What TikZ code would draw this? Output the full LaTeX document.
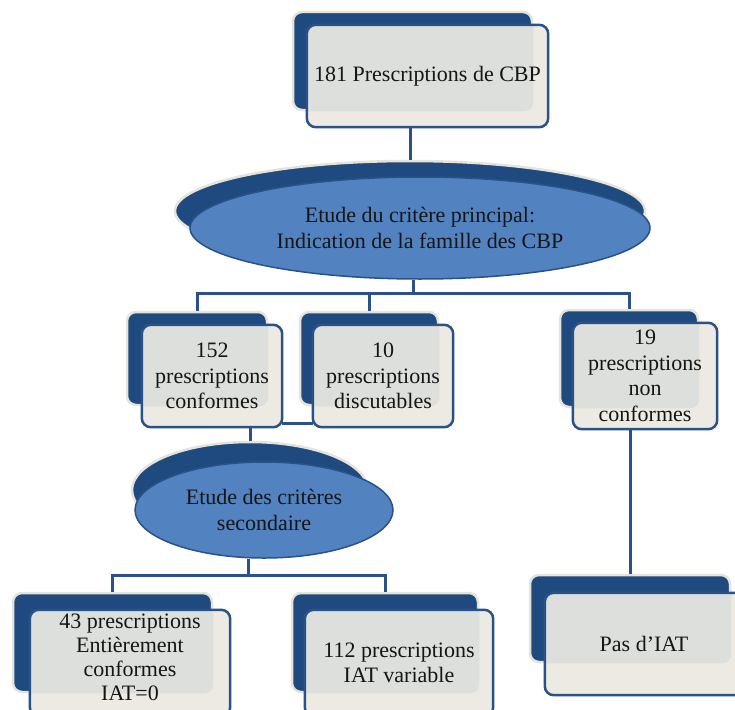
\documentclass[tikz,border=0pt]{standalone}
\usepackage{fontspec}
\setmainfont{Liberation Serif}
\usetikzlibrary{shapes.geometric,fit,calc}
\definecolor{dblue}{HTML}{1F4A7F}
\definecolor{lblue}{HTML}{5283C0}
\definecolor{beige}{HTML}{ECEAE2}
\definecolor{ovl}{HTML}{DCDFDC}
\definecolor{halo}{HTML}{E6E4DA}
\definecolor{txt}{HTML}{151515}
\definecolor{edge}{HTML}{2A5288}
\tikzset{
  backbox/.style={fill=dblue, draw=halo, line width=2.5pt, rounded corners=9pt, inner sep=0pt},
  frontbox/.style={fill=beige, draw=none, rounded corners=9pt, inner sep=0pt},
  frontline/.style={draw=edge, line width=2.5pt, rounded corners=9pt},
  lbl/.style={text=txt, align=center, font=\fontsize{22}{25.5}\selectfont, inner sep=0pt},
  conn/.style={draw=edge, line width=3pt},
  backell/.style={ellipse, fill=dblue, draw=halo, line width=2.5pt, inner sep=0pt},
  frontell/.style={ellipse, fill=lblue, draw=edge, line width=1.5pt, inner sep=0pt},
}
% #1 name, #2 #3 back corners, #4 #5 front corners, #6 text, #7 vertical text shift
\newcommand\cbox[7]{%
  \node[backbox, fit={#2 #3}] (#1b) {};
  \node[frontbox, fit={#4 #5}] (#1) {};
  \begin{scope}
    \clip[rounded corners=9pt] (#1b.south west) rectangle (#1b.north east);
    \fill[ovl, rounded corners=9pt] (#1.south west) rectangle (#1.north east);
  \end{scope}
  \draw[frontline] (#1.south west) rectangle (#1.north east);
  \node[lbl, yshift=#7] (#1t) at (#1.center) {#6};
}
\begin{document}
\begin{tikzpicture}[x=1pt,y=-1pt]
\useasboundingbox (0,0) rectangle (735,709);
\fill[white] (0,0) rectangle (735,709);
\coordinate (bar1) at (413,293);
\coordinate (bar2) at (248,575);
\coordinate (h1) at (0,423);

\cbox{top}{(293,12)}{(532,110)}{(307,25)}{(548,127)}{181 Prescriptions de CBP}{0pt}

\node[backell, minimum width=470pt, minimum height=100pt] (ell1b) at (410,211) {};
\node[frontell, lbl, minimum width=460pt, minimum height=102pt] (ell1) at (420,228) {Etude du critère principal:\\Indication de la famille des CBP};

\cbox{b152}{(127,312)}{(267,405)}{(142,325)}{(282,427)}{152\\prescriptions\\conformes}{0pt}
\cbox{b10}{(300,312)}{(438,405)}{(313,325)}{(453,427)}{10\\prescriptions\\discutables}{0pt}
\cbox{b19}{(560,310)}{(698,407)}{(573,323)}{(717,429)}{19\\prescriptions\\non\\conformes}{0pt}

\node[backell, minimum width=236pt, minimum height=96pt] (ell2b) at (250,490) {};
\node[frontell, lbl, minimum width=258pt, minimum height=96pt] (ell2) at (264,510) {Etude des critères\\secondaire};

\cbox{b43}{(13,593)}{(212,692)}{(30,610)}{(230,716)}{43 prescriptions\\[-1.5pt]Entièrement\\[-1.5pt]conformes\\[-1.5pt]IAT=0}{6pt}
\cbox{b112}{(292,593)}{(478,692)}{(305,610)}{(493,716)}{112 prescriptions\\IAT variable}{0pt}
\cbox{pas}{(530,575)}{(730,662)}{(545,593)}{(743,695)}{Pas d’IAT}{0pt}

\draw[conn] (top.south -| ell1b.north) -- (ell1b.north);
\draw[conn] (ell1.south -| bar1) -- (bar1);
\draw[conn] (b152b.north) |- (bar1) -| (b19b.north);
\draw[conn] (bar1 -| b10b.north) -- (b10b.north);
\draw[conn] (b152.east |- h1) -- (b10.west |- h1);
\draw[conn] (b152.south -| ell2b.north) -- (ell2b.north);
\draw[conn] (ell2.south -| bar2) -- (bar2);
\draw[conn] (b43b.north) |- (bar2) -| (b112b.north);
\draw[conn] (b19.south -| pasb.north) -- (pasb.north);
\end{tikzpicture}
\end{document}
